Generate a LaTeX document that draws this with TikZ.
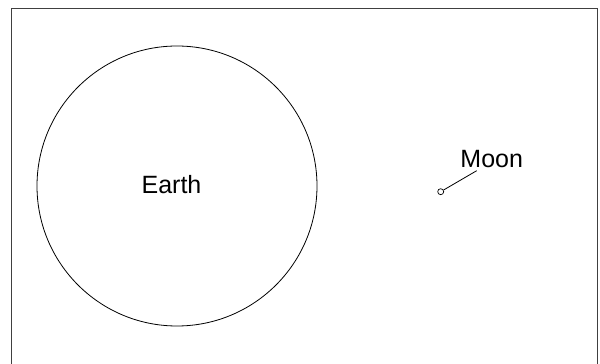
\documentclass[tikz,border=0pt]{standalone}
\usepackage{fontspec}
\setmainfont{Liberation Sans}
\begin{document}
\begin{tikzpicture}[x=1pt, y=1pt]
			
			\useasboundingbox (0,0) rectangle (600,364);
			
			% Rahmen (unten offen)
			\draw[line width=1.2pt, black!75] (11.5,0) -- (11.5,355.5) -- (597.5,355.5) -- (597.5,0);
			
			% Erde
			\draw[line width=0.8pt] (177,178) circle (140);
			\node[inner sep=0pt, font=\fontsize{25}{30}\selectfont] (earth) at (171.5,179) {Earth};
			
			% Mond
			\node[draw, circle, line width=0.7pt, minimum size=6pt, inner sep=0pt] (moon) at (440.7,172.3) {};
			\node[inner sep=0pt, font=\fontsize{25}{30}\selectfont] (moonlabel) at (491.7,205.1) {Moon};
			\coordinate (moonend) at (476.7,193.3);
			\draw[line width=0.8pt] (moon) -- (moonend);
			
		\end{tikzpicture}
\end{document}
